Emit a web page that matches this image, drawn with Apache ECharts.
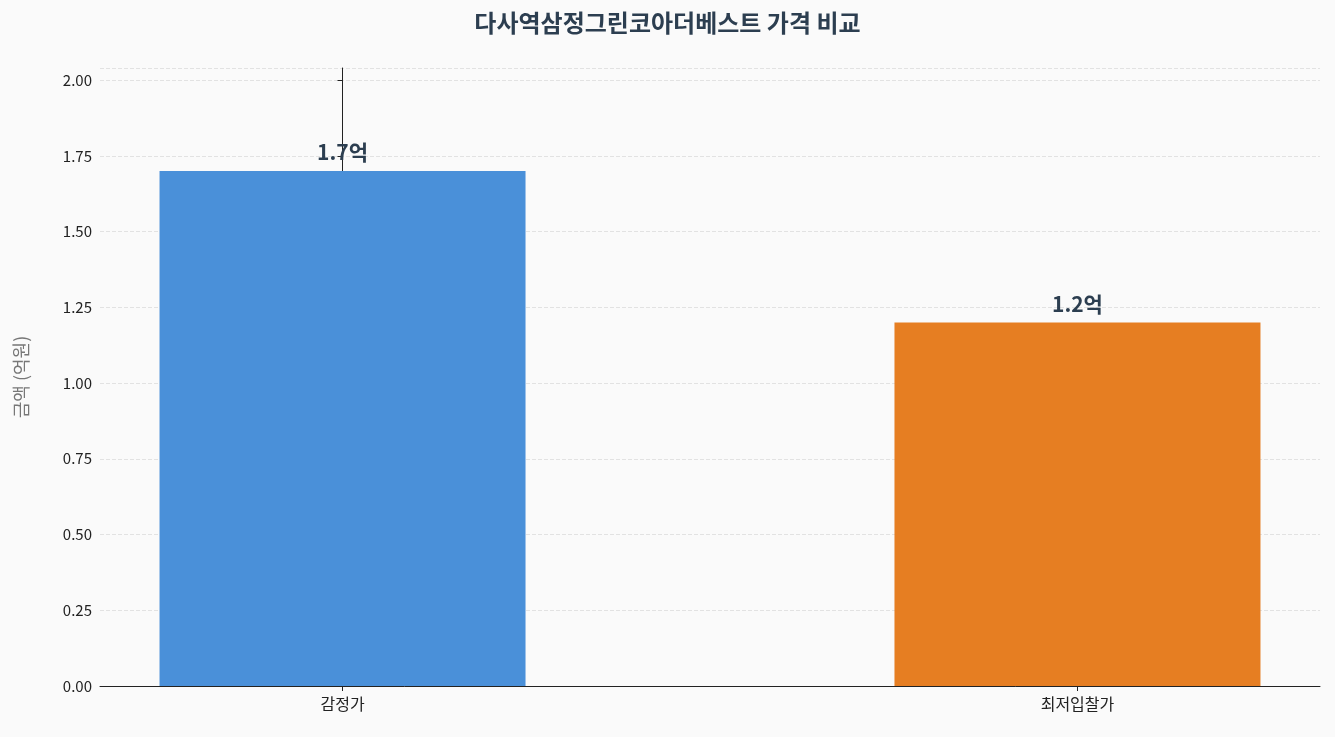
<!DOCTYPE html>
<html>
<head>
<meta charset="utf-8">
<script src="https://cdn.jsdelivr.net/npm/echarts@6/dist/echarts.min.js"></script>
<style>html,body{margin:0;background:#fafafa;}#chart{width:1335px;height:737px;}</style>
</head>
<body>
<div id="chart"></div>
<script>
var categories = ['감정가', '최저입찰가'];
var values = [1.7, 1.2];
var barColors = ['#4a90d9', '#e67e22'];
var labels = ['1.7억', '1.2억'];

var font = '"Noto Sans CJK KR", "Noto Sans", sans-serif';
var chart = echarts.init(document.getElementById('chart'));
chart.setOption({
	backgroundColor: '#fafafa',
	textStyle: {fontFamily: font},
	title: {
		text: '다사역삼정그린코아더베스트 가격 비교',
		left: 'center', top: 6,
		textStyle: {fontSize: 24, fontWeight: 'bold', color: '#2c3e50', fontFamily: font}
	},
	grid: {left: 100, right: 15, top: 68, bottom: 51},
	xAxis: {
		type: 'value', min: -0.33, max: 1.33,
		axisLine: {show: true, onZero: false, lineStyle: {color: '#222'}},
		axisTick: {show: true, customValues: [0, 1], lineStyle: {color: '#222'}},
		axisLabel: {customValues: [0, 1], fontSize: 16, color: '#222', margin: 10,
			formatter: function (v) { return categories[Math.round(v)]; }},
		splitLine: {show: false}
	},
	yAxis: {
		type: 'value', min: 0, max: 2.04, interval: 0.25,
		name: '금액 (억원)', nameLocation: 'middle', nameGap: 70,
		nameTextStyle: {fontSize: 18, color: '#777'},
		axisLine: {show: true, lineStyle: {color: '#222'}},
		axisTick: {show: true, lineStyle: {color: '#222'}},
		axisLabel: {fontSize: 15, color: '#222', showMaxLabel: false,
			formatter: function (v) { return v.toFixed(2); }},
		splitLine: {lineStyle: {type: 'dashed', color: '#e2e2e2'}}
	},
	series: [{
		type: 'bar',
		barWidth: 366,
		data: values.map(function (v, i) {
			return {value: [i, v], itemStyle: {color: barColors[i]}};
		}),
		label: {
			show: true, position: 'top', distance: 8,
			fontSize: 21, fontWeight: 'bold', color: '#2c3e50',
			formatter: function (p) { return labels[p.dataIndex]; }
		}
	}]
});
</script>
</body>
</html>
